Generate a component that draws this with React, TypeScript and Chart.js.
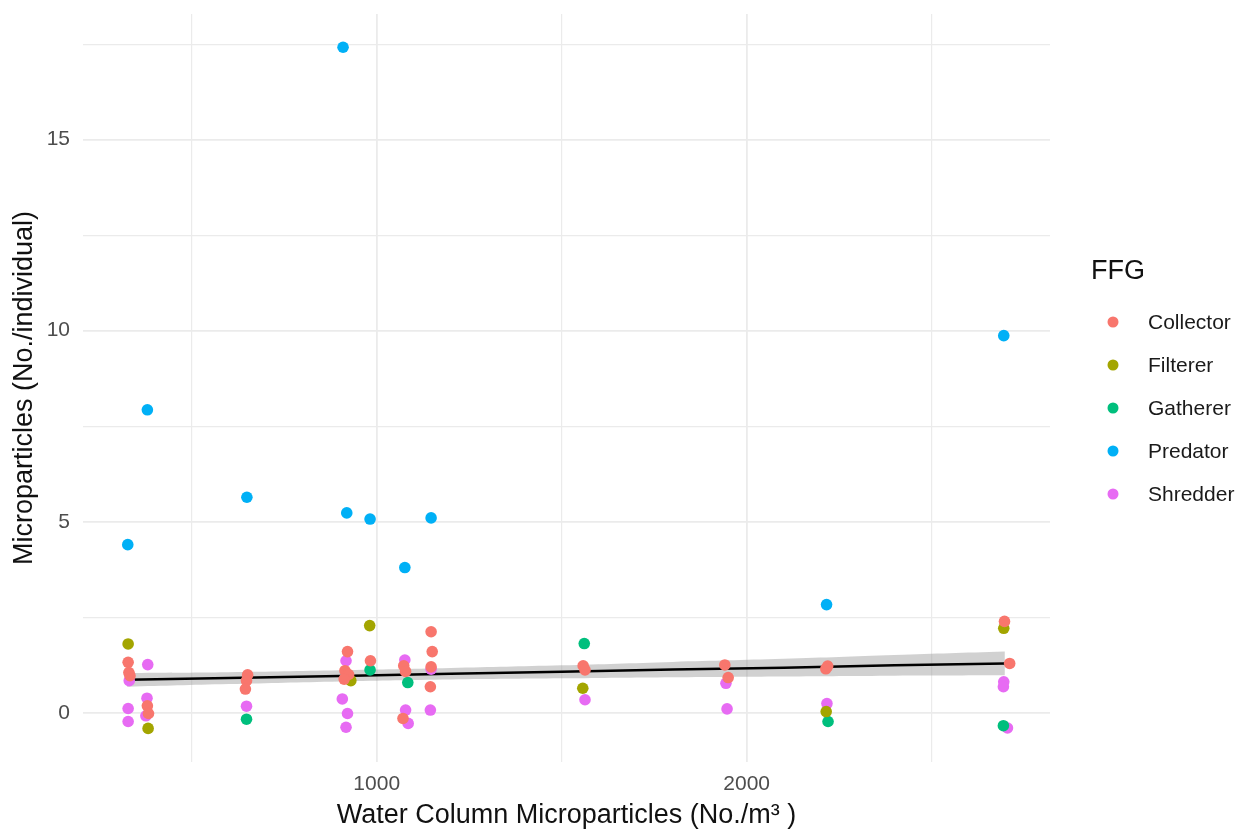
import { useEffect, useRef } from "react";
import { Chart, registerables } from "chart.js";

Chart.register(...registerables);

// Functional feeding groups and their hue palette
const GROUPS = ["Collector", "Filterer", "Gatherer", "Predator", "Shredder"];
const COLORS = ["#F8766D", "#A3A500", "#00BF7D", "#00B0F6", "#E76BF3"];

// Water column microparticles (No./m3) vs microparticles per individual
const collectorX = [328, 330, 333, 380, 383, 651, 648, 645, 921, 914, 924, 912, 983, 1073, 1078, 1071, 1147, 1150, 1147, 1145, 1558, 1563, 1941, 1950, 2219, 2214, 2697, 2711];
const collectorY = [1.32, 1.05, 0.97, 0.18, -0.02, 0.99, 0.84, 0.62, 1.6, 1.1, 1.0, 0.88, 1.36, 1.23, 1.08, -0.15, 2.12, 1.6, 1.2, 0.68, 1.23, 1.12, 1.25, 0.92, 1.22, 1.15, 2.39, 1.29];

const filtererX = [328, 382, 924, 930, 981, 1557, 2215, 2695];
const filtererY = [1.8, -0.41, 0.92, 0.84, 2.28, 0.64, 0.03, 2.21];

const gathererX = [982, 1084, 1561, 648, 2220, 2694];
const gathererY = [1.12, 0.79, 1.81, -0.17, -0.23, -0.34];

const predatorX = [327, 380, 649, 919, 982, 1076, 1147, 909, 2216, 2695];
const predatorY = [4.4, 7.93, 5.64, 5.23, 5.07, 3.8, 5.1, 17.42, 2.83, 9.87];

const shredderX = [331, 328, 328, 381, 379, 376, 648, 917, 907, 921, 917, 1076, 1078, 1085, 1147, 1145, 1563, 1944, 1947, 2217, 2695, 2694, 2705];
const shredderY = [0.84, 0.11, -0.23, 1.26, 0.38, -0.08, 0.17, 1.36, 0.36, -0.02, -0.38, 1.38, 0.07, -0.28, 1.14, 0.07, 0.34, 0.77, 0.1, 0.24, 0.81, 0.68, -0.4];

const SERIES_X = [collectorX, filtererX, gathererX, predatorX, shredderX];
const SERIES_Y = [collectorY, filtererY, gathererY, predatorY, shredderY];

// Linear trend with its 95% confidence band
const FIT_X = [325, 600, 900, 1200, 1500, 1800, 2100, 2400, 2698];
const FIT_Y = [0.86, 0.91, 0.96, 1.02, 1.07, 1.13, 1.18, 1.24, 1.29];
const FIT_LO = [0.68, 0.75, 0.82, 0.87, 0.9, 0.93, 0.95, 0.97, 0.98];
const FIT_HI = [1.04, 1.06, 1.11, 1.17, 1.24, 1.33, 1.41, 1.51, 1.6];

// Axis grid positions and labelled ticks
const X_GRID = [500, 1000, 1500, 2000, 2500];
const X_LABELED = [1000, 2000];
const Y_GRID = [0, 2.5, 5, 7.5, 10, 12.5, 15, 17.5];
const Y_LABELED = [0, 5, 10, 15];

const FONT = "'Liberation Sans', Arial, Helvetica, sans-serif";

const pts = (xs: number[], ys: number[]) => xs.map((x, i) => ({ x, y: ys[i] }));

const legendPlugin = {
  id: "ffgLegend",
  afterDraw(chart: any) {
    const ctx = chart.ctx as CanvasRenderingContext2D;
    ctx.save();
    ctx.fillStyle = "#111";
    ctx.font = `27px ${FONT}`;
    ctx.textAlign = "left";
    ctx.textBaseline = "middle";
    ctx.fillText("FFG", 1091, 272);
    ctx.font = `21px ${FONT}`;
    GROUPS.forEach((g, i) => {
      const y = 322 + i * 43;
      ctx.beginPath();
      ctx.arc(1113, y, 5.5, 0, Math.PI * 2);
      ctx.fillStyle = COLORS[i];
      ctx.fill();
      ctx.fillStyle = "#1a1a1a";
      ctx.fillText(g, 1148, y + 1);
    });
    ctx.restore();
  },
};

export default function App() {
  const ref = useRef<HTMLCanvasElement | null>(null);

  useEffect(() => {
    if (!ref.current) return;
    const pointSets = GROUPS.map((g, i) => ({
      type: "scatter" as const,
      label: g,
      data: pts(SERIES_X[i], SERIES_Y[i]),
      backgroundColor: COLORS[i],
      borderColor: COLORS[i],
      pointRadius: 5.8,
      pointBorderWidth: 0,
      showLine: false,
    }));
    const chart = new Chart(ref.current, {
      type: "scatter",
      data: {
        datasets: [
          ...pointSets,
          {
            type: "line",
            label: "fit",
            data: pts(FIT_X, FIT_Y),
            borderColor: "#000",
            borderWidth: 2.5,
            pointRadius: 0,
            fill: false,
            tension: 0,
          },
          {
            type: "line",
            label: "lower",
            data: pts(FIT_X, FIT_LO),
            borderWidth: 0,
            borderColor: "rgba(0,0,0,0)",
            pointRadius: 0,
            fill: false,
            tension: 0.4,
          },
          {
            type: "line",
            label: "upper",
            data: pts(FIT_X, FIT_HI),
            borderWidth: 0,
            borderColor: "rgba(0,0,0,0)",
            backgroundColor: "rgba(153,153,153,0.45)",
            pointRadius: 0,
            fill: "-1",
            tension: 0.4,
          },
        ] as any,
      },
      options: {
        animation: false,
        responsive: true,
        maintainAspectRatio: false,
        events: [],
        layout: { padding: { left: 0, right: 200, top: 14, bottom: 0 } },
        plugins: { legend: { display: false }, tooltip: { enabled: false } },
        scales: {
          x: {
            type: "linear",
            min: 206,
            max: 2820,
            afterBuildTicks: (s: any) => {
              s.ticks = X_GRID.map((v) => ({ value: v }));
            },
            afterFit: (s: any) => {
              s.height = 76;
              s.paddingLeft = 0;
              s.paddingRight = 0;
            },
            ticks: {
              autoSkip: false,
              maxRotation: 0,
              padding: 10,
              color: "#4d4d4d",
              font: { family: FONT, size: 21 },
              callback: (v: any) => (X_LABELED.includes(Number(v)) ? String(v) : ""),
            },
            grid: {
              color: "#ebebeb",
              drawTicks: false,
              lineWidth: (c: any) => (X_LABELED.includes(c.tick?.value) ? 1.8 : 1.2),
            },
            border: { display: false },
            title: {
              display: true,
              text: "Water Column Microparticles (No./m³ )",
              color: "#111",
              font: { family: FONT, size: 27 },
              padding: { top: 0, bottom: 6 },
            },
          },
          y: {
            type: "linear",
            min: -1.29,
            max: 18.29,
            afterBuildTicks: (s: any) => {
              s.ticks = Y_GRID.map((v) => ({ value: v }));
            },
            afterFit: (s: any) => {
              s.width = 83;
              s.paddingTop = 0;
              s.paddingBottom = 0;
            },
            ticks: {
              autoSkip: false,
              padding: 13,
              color: "#4d4d4d",
              font: { family: FONT, size: 21 },
              callback: (v: any) => (Y_LABELED.includes(Number(v)) ? String(v) : ""),
            },
            grid: {
              color: "#ebebeb",
              drawTicks: false,
              lineWidth: (c: any) => (Y_LABELED.includes(c.tick?.value) ? 1.8 : 1.2),
            },
            border: { display: false },
            title: {
              display: true,
              text: "Microparticles (No./individual)",
              color: "#111",
              font: { family: FONT, size: 27 },
              padding: { top: 8, bottom: 0 },
            },
          },
        },
      },
      plugins: [legendPlugin],
    });
    return () => chart.destroy();
  }, []);

  return (
    <div style={{ position: "fixed", left: 0, top: 0, width: 1250, height: 838, background: "#fff" }}>
      <canvas ref={ref} />
    </div>
  );
}
